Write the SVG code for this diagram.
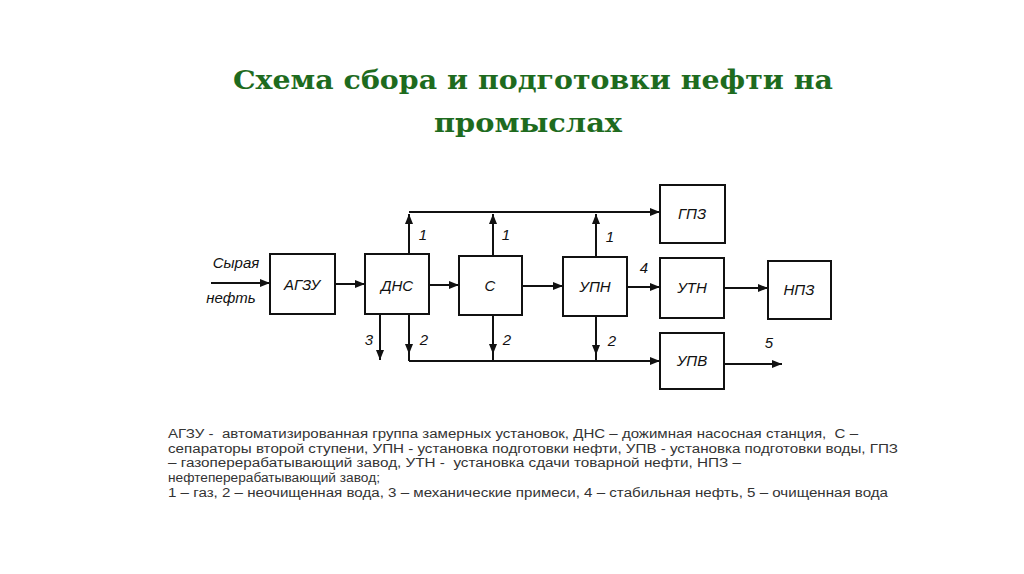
<svg xmlns="http://www.w3.org/2000/svg" width="1024" height="574" viewBox="0 0 1024 574">
<defs>
<style>
.box{fill:#fff;stroke:#111;stroke-width:2}
.lbl{font-family:"Liberation Sans",Arial,sans-serif;font-style:italic;font-size:15px;fill:#111;text-anchor:middle}
.num{font-family:"Liberation Sans",Arial,sans-serif;font-style:italic;font-size:15px;fill:#111;text-anchor:middle}
.ln{stroke:#111;stroke-width:2;fill:none}
.title{font-family:"DejaVu Serif","Liberation Serif",serif;font-weight:bold;font-size:26px;fill:#1e6b1e;text-anchor:middle}
.leg{font-family:"Liberation Sans",Arial,sans-serif;font-size:12.5px;fill:#333}
</style>
<marker id="ah" markerUnits="userSpaceOnUse" markerWidth="10" markerHeight="8" refX="10" refY="4" orient="auto">
<path d="M0,0 L10,4 L0,8 z" fill="#111"/>
</marker>
</defs>
<rect width="1024" height="574" fill="#fff"/>

<g id="title">
<text class="title" x="533" y="89" textLength="600" lengthAdjust="spacingAndGlyphs">Схема сбора и подготовки нефти на</text>
<text class="title" x="528" y="132" textLength="188" lengthAdjust="spacingAndGlyphs">промыслах</text>
</g>

<g id="connectors">
<line class="ln" x1="211" y1="283" x2="270" y2="283" marker-end="url(#ah)"/>
<text class="lbl" x="236" y="268">Сырая</text>
<text class="lbl" x="231" y="303">нефть</text>
<line class="ln" x1="335" y1="284" x2="365" y2="284" marker-end="url(#ah)"/>
<line class="ln" x1="429" y1="285" x2="459" y2="285" marker-end="url(#ah)"/>
<line class="ln" x1="522" y1="286" x2="563" y2="286" marker-end="url(#ah)"/>
<line class="ln" x1="627" y1="287" x2="660" y2="287" stroke-width="3" marker-end="url(#ah)"/>
<line class="ln" x1="724" y1="288" x2="768" y2="288" marker-end="url(#ah)"/>
<line class="ln" x1="409" y1="212" x2="660" y2="212" marker-end="url(#ah)"/>
<line class="ln" x1="409" y1="254" x2="409" y2="214" marker-end="url(#ah)"/>
<line class="ln" x1="493" y1="256" x2="493" y2="214" marker-end="url(#ah)"/>
<line class="ln" x1="596" y1="257" x2="596" y2="214" marker-end="url(#ah)"/>
<line class="ln" x1="409" y1="361" x2="660" y2="361" marker-end="url(#ah)"/>
<line class="ln" x1="409" y1="314" x2="409" y2="361"/>
<line class="ln" x1="409" y1="314" x2="409" y2="354" marker-end="url(#ah)"/>
<line class="ln" x1="493" y1="315" x2="493" y2="361"/>
<line class="ln" x1="493" y1="315" x2="493" y2="354" marker-end="url(#ah)"/>
<line class="ln" x1="596" y1="316" x2="596" y2="361"/>
<line class="ln" x1="596" y1="316" x2="596" y2="355" marker-end="url(#ah)"/>
<line class="ln" x1="380" y1="314" x2="380" y2="360" marker-end="url(#ah)"/>
<line class="ln" x1="724" y1="364" x2="782" y2="364" marker-end="url(#ah)"/>
<text class="num" x="423" y="240">1</text>
<text class="num" x="506" y="240">1</text>
<text class="num" x="610" y="242">1</text>
<text class="num" x="424" y="345">2</text>
<text class="num" x="507" y="345">2</text>
<text class="num" x="612" y="346">2</text>
<text class="num" x="369" y="345">3</text>
<text class="num" x="644" y="273">4</text>
<text class="num" x="769" y="348">5</text>
</g>

<g id="node-agzu"><rect class="box" x="270" y="254" width="65" height="60"/><text class="lbl" x="302" y="290">АГЗУ</text></g>
<g id="node-dns"><rect class="box" x="365" y="254" width="64" height="60"/><text class="lbl" x="397" y="291">ДНС</text></g>
<g id="node-c"><rect class="box" x="459" y="256" width="63" height="59"/><text class="lbl" x="490" y="291">С</text></g>
<g id="node-upn"><rect class="box" x="563" y="257" width="64" height="59"/><text class="lbl" x="595" y="292">УПН</text></g>
<g id="node-gpz"><rect class="box" x="660" y="185" width="65" height="58"/><text class="lbl" x="692" y="219">ГПЗ</text></g>
<g id="node-utn"><rect class="box" x="660" y="258" width="64" height="60"/><text class="lbl" x="692" y="293">УТН</text></g>
<g id="node-npz"><rect class="box" x="768" y="261" width="63" height="58"/><text class="lbl" x="799" y="295">НПЗ</text></g>
<g id="node-upv"><rect class="box" x="660" y="333" width="64" height="56"/><text class="lbl" x="692" y="366">УПВ</text></g>

<g id="legend">
<text class="leg" x="168" y="438" textLength="690" lengthAdjust="spacingAndGlyphs" xml:space="preserve">АГЗУ -  автоматизированная группа замерных установок, ДНС – дожимная насосная станция,  С –</text>
<text class="leg" x="168" y="453" textLength="730" lengthAdjust="spacingAndGlyphs">сепараторы второй ступени, УПН - установка подготовки нефти, УПВ - установка подготовки воды, ГПЗ</text>
<text class="leg" x="168" y="467" textLength="573" lengthAdjust="spacingAndGlyphs" xml:space="preserve">– газоперерабатывающий завод, УТН -  установка сдачи товарной нефти, НПЗ –</text>
<text class="leg" x="168" y="482" textLength="212" lengthAdjust="spacingAndGlyphs">нефтеперерабатывающий завод;</text>
<text class="leg" x="168" y="497" textLength="720" lengthAdjust="spacingAndGlyphs">1 – газ, 2 – неочищенная вода, 3 – механические примеси, 4 – стабильная нефть, 5 – очищенная вода</text>
</g>
</svg>
